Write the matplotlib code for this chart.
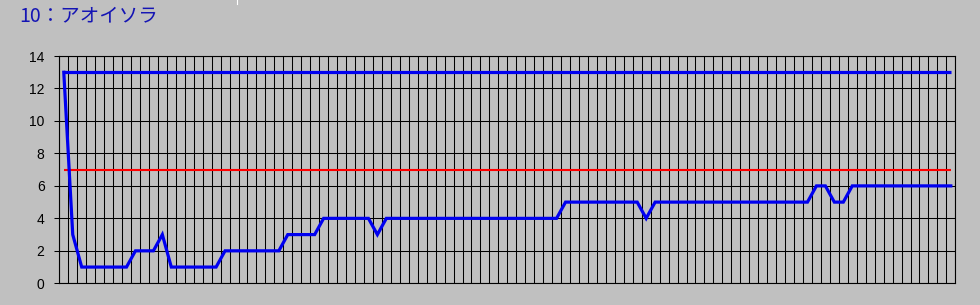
import matplotlib
matplotlib.use("Agg")
import matplotlib.pyplot as plt
import numpy as np
from matplotlib.lines import Line2D

# ---- data ----
title_text = "10：アオイソラ"
values = [13, 3, 1, 1, 1, 1, 1, 1, 2, 2,
          2, 3, 1, 1, 1, 1, 1, 1, 2, 2,
          2, 2, 2, 2, 2, 3, 3, 3, 3, 4,
          4, 4, 4, 4, 4, 3, 4, 4, 4, 4,
          4, 4, 4, 4, 4, 4, 4, 4, 4, 4,
          4, 4, 4, 4, 4, 4, 5, 5, 5, 5,
          5, 5, 5, 5, 5, 4, 5, 5, 5, 5,
          5, 5, 5, 5, 5, 5, 5, 5, 5, 5,
          5, 5, 5, 5, 6, 6, 5, 5, 6, 6,
          6, 6, 6, 6, 6, 6, 6, 6, 6, 6]
upper_value = 13
threshold_value = 7
y_ticks = [0, 2, 4, 6, 8, 10, 12, 14]

BG = "#C0C0C0"
W, H = 980, 305

fig = plt.figure(figsize=(W / 100, H / 100), dpi=100, facecolor=BG)
left, right, top, bottom = 59.3, 955.3, 56.0, 283.3
ax = fig.add_axes([left / W, 1 - bottom / H, (right - left) / W, (bottom - top) / H])
ax.set_facecolor(BG)

n = len(values)
x = np.arange(n)

ax.set_xlim(-0.5, n - 0.5)
ax.set_ylim(y_ticks[0], y_ticks[-1])

# grid
ax.set_xticks(np.arange(-0.5, n, 1))
ax.set_xticklabels([])
ax.tick_params(axis="x", length=0)
ax.set_yticks(y_ticks)
ax.set_yticklabels([str(t) for t in y_ticks], fontsize=10, family="Liberation Sans", color="black")
ax.tick_params(axis="y", length=3.6, width=0.75, pad=7, direction="out", color="black")
ax.grid(True, color="black", linewidth=0.75, zorder=1)
ax.set_axisbelow(True)
for s in ax.spines.values():
    s.set_color("black")
    s.set_linewidth(0.8)

ax.hlines(threshold_value, 0, n - 1, colors="#FF0000", linewidth=1.5, zorder=3)
ax.hlines(upper_value, 0, n - 1, colors="#0000F0", linewidth=2.3, zorder=4)
ax.plot(x, values, color="#0000F0", linewidth=2.3, zorder=5, solid_joinstyle="miter")

fig.text(19 / W, 1 - 16 / H, title_text, va="center", ha="left", fontsize=14,
         color="#1414B4", family=["Noto Sans CJK JP", "DejaVu Sans"])

# small white mark at the top
fig.add_artist(Line2D([236.7 / W, 236.7 / W], [1.0, 1 - 4 / H], color="white", linewidth=0.8))

fig.savefig("out.png", dpi=100, facecolor=BG)
